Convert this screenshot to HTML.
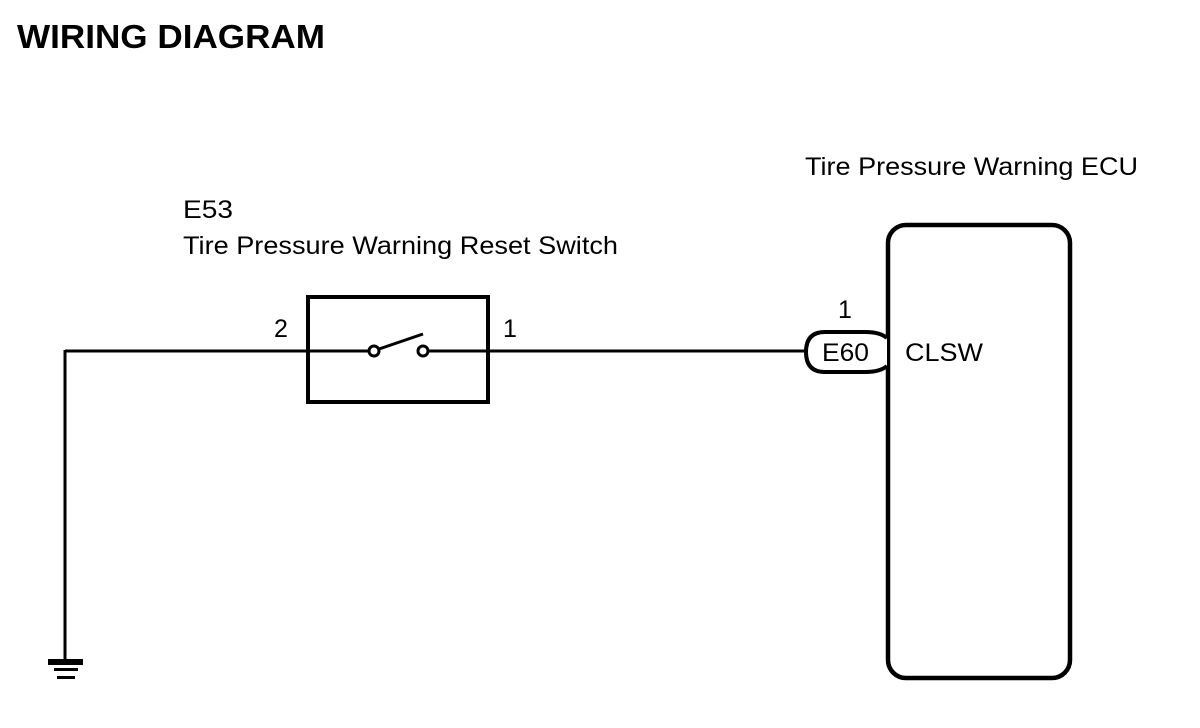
<!DOCTYPE html>
<html><head><style>html,body{margin:0;padding:0;background:#fff;}svg{display:block}</style></head>
<body>
<svg width="1200" height="728" viewBox="0 0 1200 728" xmlns="http://www.w3.org/2000/svg" font-family="Liberation Sans, Arial, sans-serif">
<rect width="1200" height="728" fill="#fff"/>
<text x="17" y="48" font-size="33" font-weight="bold" textLength="308" lengthAdjust="spacingAndGlyphs">WIRING DIAGRAM</text>
<text x="183" y="218" font-size="25" textLength="50" lengthAdjust="spacingAndGlyphs">E53</text>
<text x="183" y="254" font-size="25" textLength="435" lengthAdjust="spacingAndGlyphs">Tire Pressure Warning Reset Switch</text>
<text x="805" y="175" font-size="25" textLength="333" lengthAdjust="spacingAndGlyphs">Tire Pressure Warning ECU</text>
<g stroke="#000" fill="none">
<line x1="65" y1="351" x2="369" y2="351" stroke-width="3"/>
<line x1="428" y1="351" x2="806" y2="351" stroke-width="3"/>
<line x1="65" y1="350" x2="65" y2="660" stroke-width="3"/>
<rect x="308" y="297" width="180" height="105" stroke-width="4"/>
<circle cx="374" cy="351" r="5" stroke-width="3" fill="#fff"/>
<circle cx="423" cy="351" r="5" stroke-width="3" fill="#fff"/>
<line x1="379" y1="349" x2="423" y2="334" stroke-width="3"/>
<rect x="888" y="225" width="182" height="453" rx="18" stroke-width="4.5"/>
<path d="M887 338 Q880 332 865 332 L825 332 Q806 332 806 352 Q806 372 825 372 L865 372 Q880 372 887 366" stroke-width="4" fill="#fff"/>
</g>
<g fill="#000">
<rect x="48" y="659" width="35" height="6"/>
<rect x="54" y="668" width="24" height="3"/>
<rect x="57" y="676" width="18" height="3"/>
</g>
<text x="274" y="337" font-size="25">2</text>
<text x="503" y="337" font-size="25">1</text>
<text x="838" y="318" font-size="25">1</text>
<text x="822" y="361" font-size="25" textLength="47" lengthAdjust="spacingAndGlyphs">E60</text>
<text x="905" y="361" font-size="25" textLength="78" lengthAdjust="spacingAndGlyphs">CLSW</text>
</svg>
</body></html>
